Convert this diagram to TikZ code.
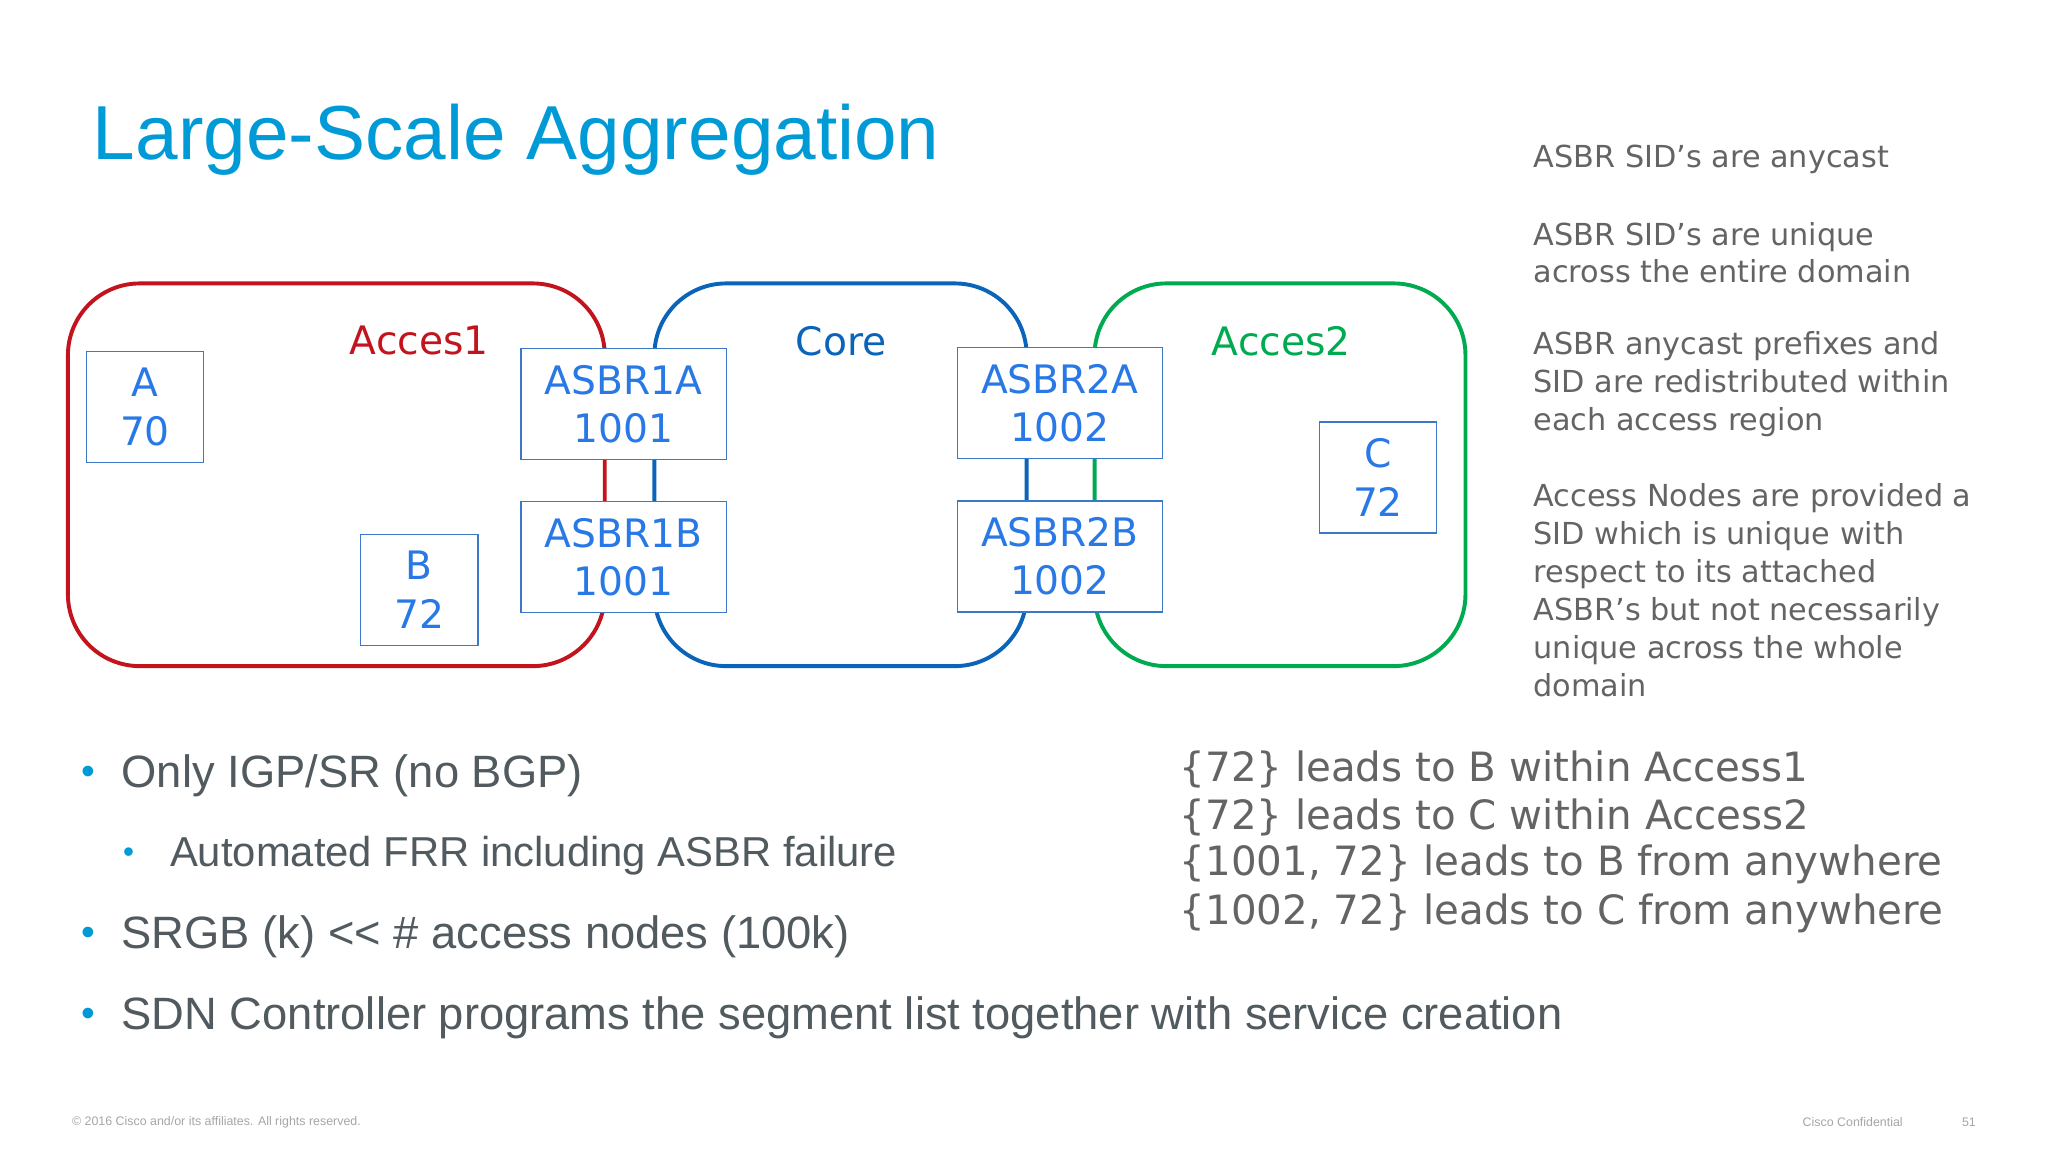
\documentclass[tikz,border=0pt]{standalone}
\usepackage{fontspec}
\setmainfont{DejaVu Sans}
\newfontfamily\arialf{Liberation Sans}
\definecolor{titleblue}{RGB}{0,155,215}
\definecolor{rred}{RGB}{195,20,30}
\definecolor{rblue}{RGB}{10,100,185}
\definecolor{rgreen}{RGB}{0,170,80}
\definecolor{boxtxt}{RGB}{40,120,230}
\definecolor{boxline}{RGB}{60,120,200}
\definecolor{gtxt}{RGB}{100,100,100}
\definecolor{btxt}{RGB}{80,90,95}
\begin{document}
\begin{tikzpicture}[x=1pt,y=-1pt,
 region/.style={line width=3pt,rounded corners=55pt},
 rbox/.style={draw=boxline,line width=1pt,fill=white,align=center,text=boxtxt,font=\fontsize{30}{37}\selectfont,inner sep=0pt},
 rt/.style={anchor=west,text=gtxt,font=\fontsize{23.2}{29}\selectfont,align=left,inner sep=0pt},
 bl/.style={anchor=west,text=btxt,inner sep=0pt},
 dot/.style={anchor=west,text=titleblue,inner sep=0pt},
 br/.style={anchor=west,text=gtxt,font=\fontsize{30.9}{37}\selectfont,inner sep=0pt}]
\useasboundingbox[fill=white] (0,0) rectangle (1568,882);
\node[anchor=west,text=titleblue,font=\arialf\fontsize{58.6}{70}\selectfont,inner sep=0pt] (title) at (71,107) {Large-Scale Aggregation};
\draw[region,rred] (52,217) rectangle (463,510);
\draw[region,rblue] (501,217) rectangle (786,510);
\draw[region,rgreen] (838,217) rectangle (1122,510);
\node[text=rred,font=\fontsize{30}{36}\selectfont] (l1) at (321,261) {Acces1};
\node[text=rblue,font=\fontsize{30}{36}\selectfont] (l2) at (644,261) {Core};
\node[text=rgreen,font=\fontsize{30}{36}\selectfont] (l3) at (981,261) {Acces2};
\node[rbox,minimum width=90pt,minimum height=85pt] (A) at (111,311.5) {A\\70};
\node[rbox,minimum width=90pt,minimum height=85pt] (B) at (321,451.5) {B\\72};
\node[rbox,minimum width=90pt,minimum height=85pt] (C) at (1055,365.5) {C\\72};
\node[rbox,minimum width=157pt,minimum height=85pt] (a1a) at (477.5,309.5) {ASBR1A\\1001};
\node[rbox,minimum width=157pt,minimum height=85pt] (a1b) at (477.5,426.5) {ASBR1B\\1001};
\node[rbox,minimum width=157pt,minimum height=85pt] (a2a) at (811.5,308.5) {ASBR2A\\1002};
\node[rbox,minimum width=157pt,minimum height=85pt] (a2b) at (811.5,426) {ASBR2B\\1002};
\node[rt] (r1) at (1174,122) {ASBR SID’s are anycast};
\node[rt] (r2) at (1174,193.5) {ASBR SID’s are unique\\across the entire domain};
\node[rt] (r3) at (1174,294) {ASBR anycast prefixes and\\SID are redistributed within\\each access region};
\node[rt] (r4) at (1174,452) {Access Nodes are provided a\\SID which is unique with\\respect to its attached\\ASBR’s but not necessarily\\unique across the whole\\domain};
\node[dot,font=\arialf\fontsize{30}{34}\selectfont] (d1) at (62,594) {•};
\node[bl,font=\arialf\fontsize{34.7}{40}\selectfont] (b1) at (93,594) {Only IGP/SR (no BGP)};
\node[dot,font=\arialf\fontsize{24}{30}\selectfont] (d2) at (94,655) {•};
\node[bl,font=\arialf\fontsize{32}{36}\selectfont] (b2) at (130,655) {Automated FRR including ASBR failure};
\node[dot,font=\arialf\fontsize{30}{34}\selectfont] (d3) at (62,717) {•};
\node[bl,font=\arialf\fontsize{34.7}{40}\selectfont] (b3) at (93,717) {SRGB (k) << \# access nodes (100k)};
\node[dot,font=\arialf\fontsize{30}{34}\selectfont] (d4) at (62,779) {•};
\node[bl,font=\arialf\fontsize{34.7}{40}\selectfont] (b4) at (93,779) {SDN Controller programs the segment list together with service creation};
\node[br] (c1) at (903,589) {\{72\} leads to B within Access1};
\node[br] (c2) at (903,626) {\{72\} leads to C within Access2};
\node[br] (c3) at (903,662) {\{1001, 72\} leads to B from anywhere};
\node[br] (c4) at (903,699) {\{1002, 72\} leads to C from anywhere};
\node[anchor=west,text=gray!70,font=\arialf\fontsize{9.5}{10}\selectfont,inner sep=0pt] (f1) at (55,859) {© 2016 Cisco and/or its affiliates. All rights reserved.};
\node[anchor=west,text=gray!70,font=\arialf\fontsize{9.5}{10}\selectfont,inner sep=0pt] (f2) at (1380,859) {Cisco Confidential};
\node[anchor=west,text=gray!70,font=\arialf\fontsize{9.5}{10}\selectfont,inner sep=0pt] (f3) at (1502,859) {51};
\end{tikzpicture}
\end{document}
